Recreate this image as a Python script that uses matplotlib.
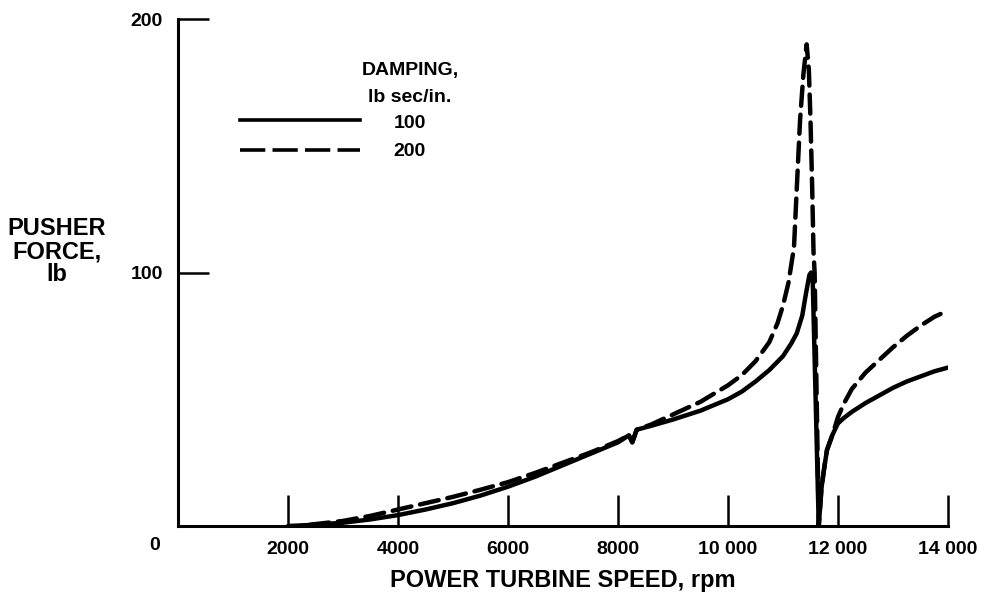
import matplotlib
matplotlib.use("Agg")
import matplotlib.pyplot as plt
from matplotlib.lines import Line2D

plt.rcParams['font.family'] = ['Liberation Sans', 'DejaVu Sans']
plt.rcParams['font.weight'] = 'bold'

# Damping 100 lb sec/in (solid)
speed_100 = [2000, 2500, 3000, 3500, 4000, 4500, 5000, 5500, 6000, 6500, 7000, 7500, 8000,
             8200, 8260, 8340, 8600, 9000, 9500, 10000, 10250, 10500, 10750, 11000, 11150,
             11250, 11350, 11420, 11480, 11510, 11540, 11650, 11700, 11750, 11800, 11900,
             12000, 12100, 12250, 12500, 12750, 13000, 13250, 13500, 13750, 14000]
force_100 = [0, 0.5, 1.3, 2.6, 4.3, 6.5, 9, 12, 15.5, 19.5, 24, 28.5, 33,
             35.8, 33, 38, 39.5, 42, 45.5, 50, 53, 57, 61.5, 67, 72,
             76, 83, 92, 99, 100, 97, 0, 15, 23, 30, 36,
             40.5, 42.5, 45, 48.5, 51.5, 54.5, 57, 59, 61, 62.5]

# Damping 200 lb sec/in (dashed)
speed_200 = [2400, 3000, 3500, 4000, 4500, 5000, 5500, 6000, 6500, 7000, 7500, 8000,
             8200, 8260, 8340, 8600, 9000, 9500, 10000, 10250, 10500, 10750, 10900, 11000,
             11100, 11200, 11250, 11310, 11370, 11430, 11470, 11500, 11530, 11555, 11575,
             11650, 11700, 11750, 11800, 11900, 12000, 12100, 12250, 12500, 12750, 13000,
             13250, 13500, 13750, 14000]
force_200 = [0.5, 2, 4, 6.5, 9, 11.5, 14.3, 17.3, 21, 25, 29, 33.5,
             35.8, 33, 38, 40, 44, 49, 55.5, 59.5, 65, 72.5, 80, 87,
             96, 110, 133, 160, 178, 190, 180, 160, 134, 108, 100,
             0, 15, 23, 30, 36, 43, 48, 54, 60.5, 65.5, 70.5,
             75, 79, 82.5, 85]

x_ticks = [2000, 4000, 6000, 8000, 10000, 12000, 14000]
x_tick_labels = ['2000', '4000', '6000', '8000', '10 000', '12 000', '14 000']
y_ticks = [100, 200]
y_tick_labels = ['100', '200']

W, H = 981, 596
fig = plt.figure(figsize=(W / 100, H / 100), dpi=100)
ax = fig.add_axes([178 / W, 1 - 526 / H, (948 - 178) / W, (526 - 19) / H])

ax.plot(speed_100, force_100, color='black', lw=3.2, solid_joinstyle='round',
        solid_capstyle='round')
ax.plot(speed_200, force_200, color='black', lw=3.2, linestyle=(0, (4.3, 2)),
        dash_capstyle='round', dash_joinstyle='round')

ax.set_xlim(0, 14000)
ax.set_ylim(0, 200)
for s in ['top', 'right']:
    ax.spines[s].set_visible(False)
for s in ['left', 'bottom']:
    ax.spines[s].set_linewidth(2.2)
    ax.spines[s].set_capstyle('projecting')

ax.set_xticks(x_ticks)
ax.set_xticklabels(x_tick_labels)
ax.set_yticks(y_ticks)
ax.set_yticklabels(y_tick_labels)
ax.tick_params(axis='x', direction='in', length=22, width=1.8, pad=11, labelsize=14)
ax.tick_params(axis='y', direction='in', length=22, width=1.8, pad=11, labelsize=14)

ax.set_xlabel('POWER TURBINE SPEED, rpm', fontsize=17, fontweight='bold', labelpad=8)

fig.text(155 / W, 1 - 545 / H, '0', fontsize=14, fontweight='bold', ha='center', va='center')
fig.text(57 / W, 1 - 252 / H, 'PUSHER\nFORCE,\nlb', fontsize=17, fontweight='bold',
         ha='center', va='center', linespacing=1.0)

# Legend
fig.add_artist(Line2D([240 / W, 360 / W], [1 - 120 / H, 1 - 120 / H], color='black', lw=2.6,
                      transform=fig.transFigure))
fig.add_artist(Line2D([240 / W, 360 / W], [1 - 150 / H, 1 - 150 / H], color='black', lw=2.6,
                      linestyle=(0, (7, 2)), transform=fig.transFigure))
fig.text(410 / W, 1 - 70 / H, 'DAMPING,', fontsize=14, fontweight='bold', ha='center', va='center')
fig.text(410 / W, 1 - 97 / H, 'lb sec/in.', fontsize=14, fontweight='bold', ha='center', va='center')
fig.text(410 / W, 1 - 124 / H, '100', fontsize=14, fontweight='bold', ha='center', va='center')
fig.text(410 / W, 1 - 151 / H, '200', fontsize=14, fontweight='bold', ha='center', va='center')

fig.savefig('out.png', dpi=100)
